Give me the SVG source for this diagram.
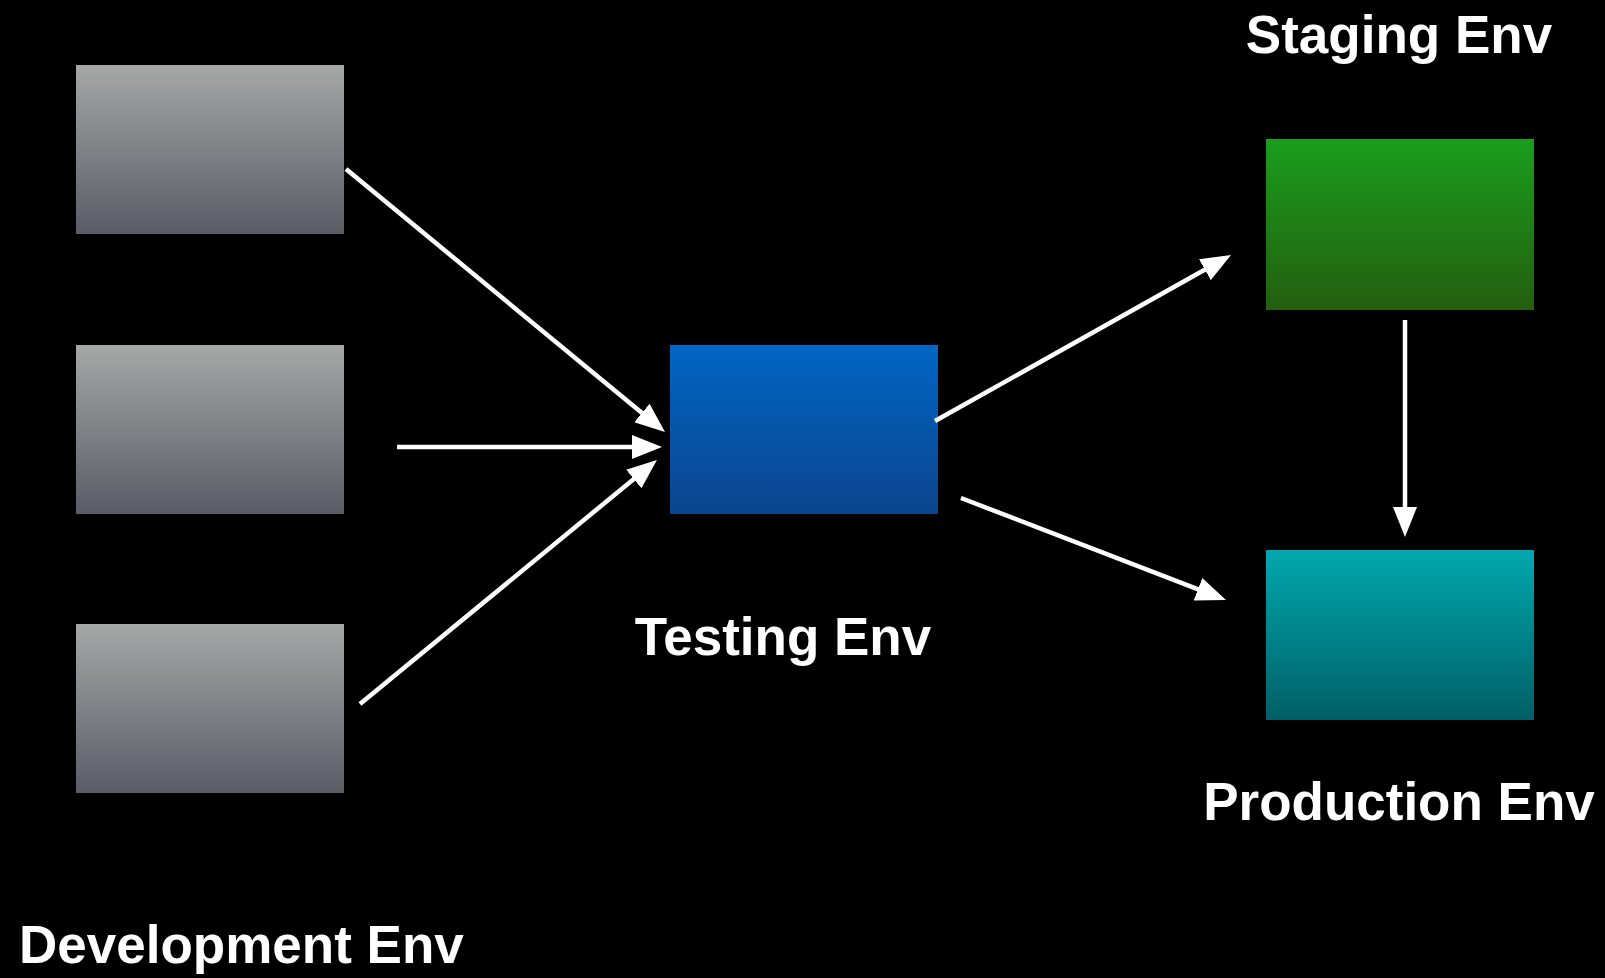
<svg xmlns="http://www.w3.org/2000/svg" width="1605" height="978" viewBox="0 0 1605 978">
<style>
.lbl{font-family:"Liberation Sans",Arial,sans-serif;font-weight:bold;font-size:53px;fill:#ffffff}
.conn{stroke:#ffffff;stroke-width:4.5;fill:none;marker-end:url(#ah)}
</style>
<defs>
<linearGradient id="gGray" x1="0" y1="0" x2="0" y2="1"><stop offset="0" stop-color="#a5a8a6"/><stop offset="1" stop-color="#595c65"/></linearGradient>
<linearGradient id="gBlue" x1="0" y1="0" x2="0" y2="1"><stop offset="0" stop-color="#0066c4"/><stop offset="1" stop-color="#0c448e"/></linearGradient>
<linearGradient id="gGreen" x1="0" y1="0" x2="0" y2="1"><stop offset="0" stop-color="#1a9e1c"/><stop offset="1" stop-color="#245e10"/></linearGradient>
<linearGradient id="gTeal" x1="0" y1="0" x2="0" y2="1"><stop offset="0" stop-color="#01a8ae"/><stop offset="1" stop-color="#005f66"/></linearGradient>
<marker id="ah" markerUnits="userSpaceOnUse" markerWidth="30" markerHeight="24" refX="10" refY="12" orient="auto" viewBox="0 0 30 24"><path d="M0,0 L30,12 L0,24 z" fill="#ffffff"/></marker>
</defs>
<rect width="1605" height="978" fill="#000000"/>
<g id="dev1"><rect x="76" y="65" width="268" height="169" fill="url(#gGray)"/></g>
<g id="dev2"><rect x="76" y="345" width="268" height="169" fill="url(#gGray)"/></g>
<g id="dev3"><rect x="76" y="624" width="268" height="169" fill="url(#gGray)"/></g>
<g id="devLabel"><text class="lbl" x="19" y="963">Development Env</text></g>
<g id="testing"><rect x="670" y="345" width="268" height="169" fill="url(#gBlue)"/><text class="lbl" x="783" y="655" text-anchor="middle">Testing Env</text></g>
<g id="staging"><rect x="1266" y="139" width="268" height="171" fill="url(#gGreen)"/><text class="lbl" x="1399" y="53" text-anchor="middle">Staging Env</text></g>
<g id="production"><rect x="1266" y="550" width="268" height="170" fill="url(#gTeal)"/><text class="lbl" x="1399" y="820" text-anchor="middle">Production Env</text></g>
<g id="connectors">
<path class="conn" d="M346,169 L649.6,419.3"/>
<path class="conn" d="M397,447 L642,447"/>
<path class="conn" d="M360,704 L641.5,472.7"/>
<path class="conn" d="M935,421 L1213.6,264.8"/>
<path class="conn" d="M961,498 L1207.3,592.8"/>
<path class="conn" d="M1405,320 L1405,517"/>
</g>
</svg>
